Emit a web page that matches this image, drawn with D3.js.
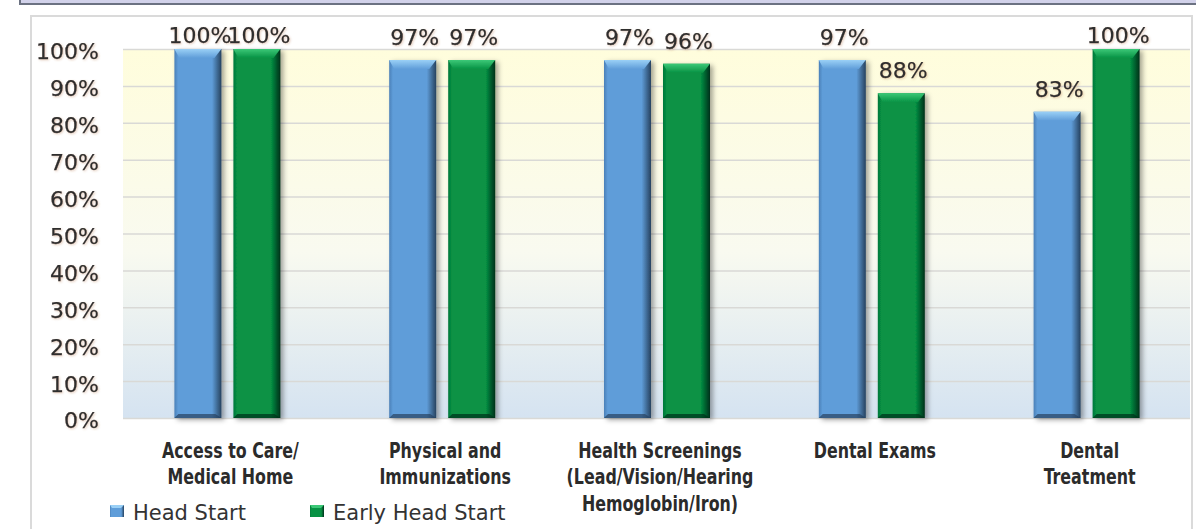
<!DOCTYPE html>
<html>
<head>
<meta charset="utf-8">
<style>
body { margin: 0; background: #fff; }
svg { display: block; }
.tick text { font-family: "DejaVu Sans", sans-serif; font-size: 22px; fill: #2e2e2e; stroke: #2e2e2e; stroke-width: 0.25px; }
.cat { font-family: "DejaVu Sans Condensed", "DejaVu Sans", sans-serif; font-weight: bold; font-size: 21px; fill: #2b2b2b; }
.val { font-family: "DejaVu Sans", sans-serif; font-size: 22px; fill: #2e2e2e; stroke: #2e2e2e; stroke-width: 0.25px; }
.leg { font-family: "DejaVu Sans", sans-serif; font-size: 21px; fill: #333; }
</style>
</head>
<body>
<script src="https://cdn.jsdelivr.net/npm/d3@7"></script>
<script>
const W = 1196, H = 529;

// data
const categories = ["Access to Care/\nMedical Home", "Physical and\nImmunizations",
  "Health Screenings\n(Lead/Vision/Hearing\nHemoglobin/Iron)", "Dental Exams", "Dental\nTreatment"];
const series = ["Head Start", "Early Head Start"];
const headStart = [100, 97, 97, 97, 83];
const earlyHeadStart = [100, 97, 96, 88, 100];
const yTicks = [0, 10, 20, 30, 40, 50, 60, 70, 80, 90, 100];

const values = [headStart, earlyHeadStart];

const svg = d3.select("body").append("svg")
  .attr("width", W).attr("height", H);

const defs = svg.append("defs");

const bg = defs.append("linearGradient").attr("id", "plotbg")
  .attr("x1", 0).attr("y1", 0).attr("x2", 0).attr("y2", 1);
bg.append("stop").attr("offset", "0%").attr("stop-color", "#fffddc");
bg.append("stop").attr("offset", "55%").attr("stop-color", "#f9faf0");
bg.append("stop").attr("offset", "100%").attr("stop-color", "#d5e3f1");

const palette = [
  { base: "#5f9dd9", light: "#9ad0f6", dark: "#26425f", mid: "#4a80b8" },
  { base: "#079244", light: "#3cc877", dark: "#00301a", mid: "#05773a" }
];
palette.forEach((p, i) => {
  const g = defs.append("linearGradient").attr("id", "body" + i)
    .attr("x1", 0).attr("y1", 0).attr("x2", 1).attr("y2", 0);
  g.append("stop").attr("offset", "0%").attr("stop-color", p.mid);
  g.append("stop").attr("offset", "8%").attr("stop-color", p.base);
  g.append("stop").attr("offset", "80%").attr("stop-color", p.base);
  g.append("stop").attr("offset", "100%").attr("stop-color", p.dark);
  const t = defs.append("linearGradient").attr("id", "top" + i)
    .attr("x1", 0).attr("y1", 0).attr("x2", 0).attr("y2", 1);
  t.append("stop").attr("offset", "0%").attr("stop-color", p.light);
  t.append("stop").attr("offset", "100%").attr("stop-color", p.base);
});

const shadow = defs.append("filter").attr("id", "shadow")
  .attr("x", "-20%").attr("y", "-5%").attr("width", "150%").attr("height", "115%");
shadow.append("feDropShadow").attr("dx", 3).attr("dy", 2).attr("stdDeviation", 2.5)
  .attr("flood-color", "#000").attr("flood-opacity", 0.35);

const txtShadow = defs.append("filter").attr("id", "tshadow");
txtShadow.append("feDropShadow").attr("dx", 1).attr("dy", 1).attr("stdDeviation", 0.8)
  .attr("flood-color", "#b07040").attr("flood-opacity", 0.35);

// top strip
svg.append("rect").attr("x", 20).attr("y", -4).attr("width", W).attr("height", 8)
  .attr("fill", "#d2d2ea").attr("stroke", "#6c7282").attr("stroke-width", 2);

// frame
svg.append("rect").attr("x", 31).attr("y", 16).attr("width", 1161).attr("height", 530)
  .attr("fill", "#fff").attr("stroke", "#dadada").attr("stroke-width", 2);

const plotL = 123, plotR = 1190, plotT = 49, plotB = 418;

const y = d3.scaleLinear().domain([0, 100]).range([plotB, plotT]);
const x0 = d3.scaleBand().domain(categories).range([121, 1195]);
const x1 = d3.scaleBand().domain(series).range([0, 106]).paddingInner(0.2034);

svg.append("rect").attr("x", plotL).attr("y", plotT)
  .attr("width", plotR - plotL).attr("height", plotB - plotT)
  .attr("fill", "url(#plotbg)");

const yAxis = d3.axisLeft(y).tickValues(yTicks).tickSize(-(plotR - plotL)).tickPadding(24)
  .tickFormat(d => d + "%");
const ga = svg.append("g").attr("transform", `translate(${plotL},0)`).call(yAxis);
ga.select(".domain").remove();
ga.selectAll(".tick line").attr("stroke", "#d9d9d6").attr("stroke-width", 1.5);
ga.selectAll(".tick text").attr("dy", "0.45em").attr("filter", "url(#tshadow)");

// bars
const bw = x1.bandwidth();
series.forEach((s, si) => {
  const p = palette[si];
  const g = svg.append("g");
  categories.forEach((c, ci) => {
    const v = values[si][ci];
    const bx = x0(c) + x0.bandwidth() / 2 - 54 + x1(s);
    const by = y(v), bh = y(0) - y(v);
    const bar = g.append("g").attr("filter", "url(#shadow)");
    bar.append("rect").attr("x", bx).attr("y", by).attr("width", bw).attr("height", bh)
      .attr("fill", `url(#body${si})`);
    // top bevel
    bar.append("path")
      .attr("d", `M${bx},${by} L${bx + bw},${by} L${bx + bw - 7},${by + 9} L${bx + 5},${by + 9} Z`)
      .attr("fill", `url(#top${si})`);
    // bottom bevel
    bar.append("path")
      .attr("d", `M${bx},${by + bh} L${bx + bw},${by + bh} L${bx + bw - 6},${by + bh - 4} L${bx + 4},${by + bh - 4} Z`)
      .attr("fill", p.dark).attr("opacity", 0.7);
    // value label
    svg.append("text").attr("class", "val")
      .attr("x", bx + bw / 2 + 2)
      .attr("y", Math.max(by - 15, 43))
      .attr("text-anchor", "middle")
      .attr("filter", "url(#tshadow)")
      .text(v + "%");
  });
});

// category labels
categories.forEach(c => {
  const cx = x0(c) + x0.bandwidth() / 2 + 2;
  const t = svg.append("text").attr("class", "cat")
    .attr("transform", `translate(${cx},458) scale(0.84,1)`)
    .attr("text-anchor", "middle");
  c.split("\n").forEach((line, i) => {
    t.append("tspan").attr("x", 0)
      .attr("dy", i === 0 ? 0 : 26.5).text(line);
  });
});

// legend
const legX = [110, 310];
series.forEach((s, i) => {
  const p = palette[i];
  svg.append("rect").attr("x", legX[i]).attr("y", 505).attr("width", 14).attr("height", 12)
    .attr("fill", `url(#body${i})`);
  svg.append("path")
    .attr("d", `M${legX[i]},505 L${legX[i] + 14},505 L${legX[i] + 11},508 L${legX[i] + 2},508 Z`)
    .attr("fill", p.light);
  svg.append("text").attr("class", "leg")
    .attr("x", legX[i] + 23).attr("y", 520).text(s);
});
</script>
</body>
</html>
